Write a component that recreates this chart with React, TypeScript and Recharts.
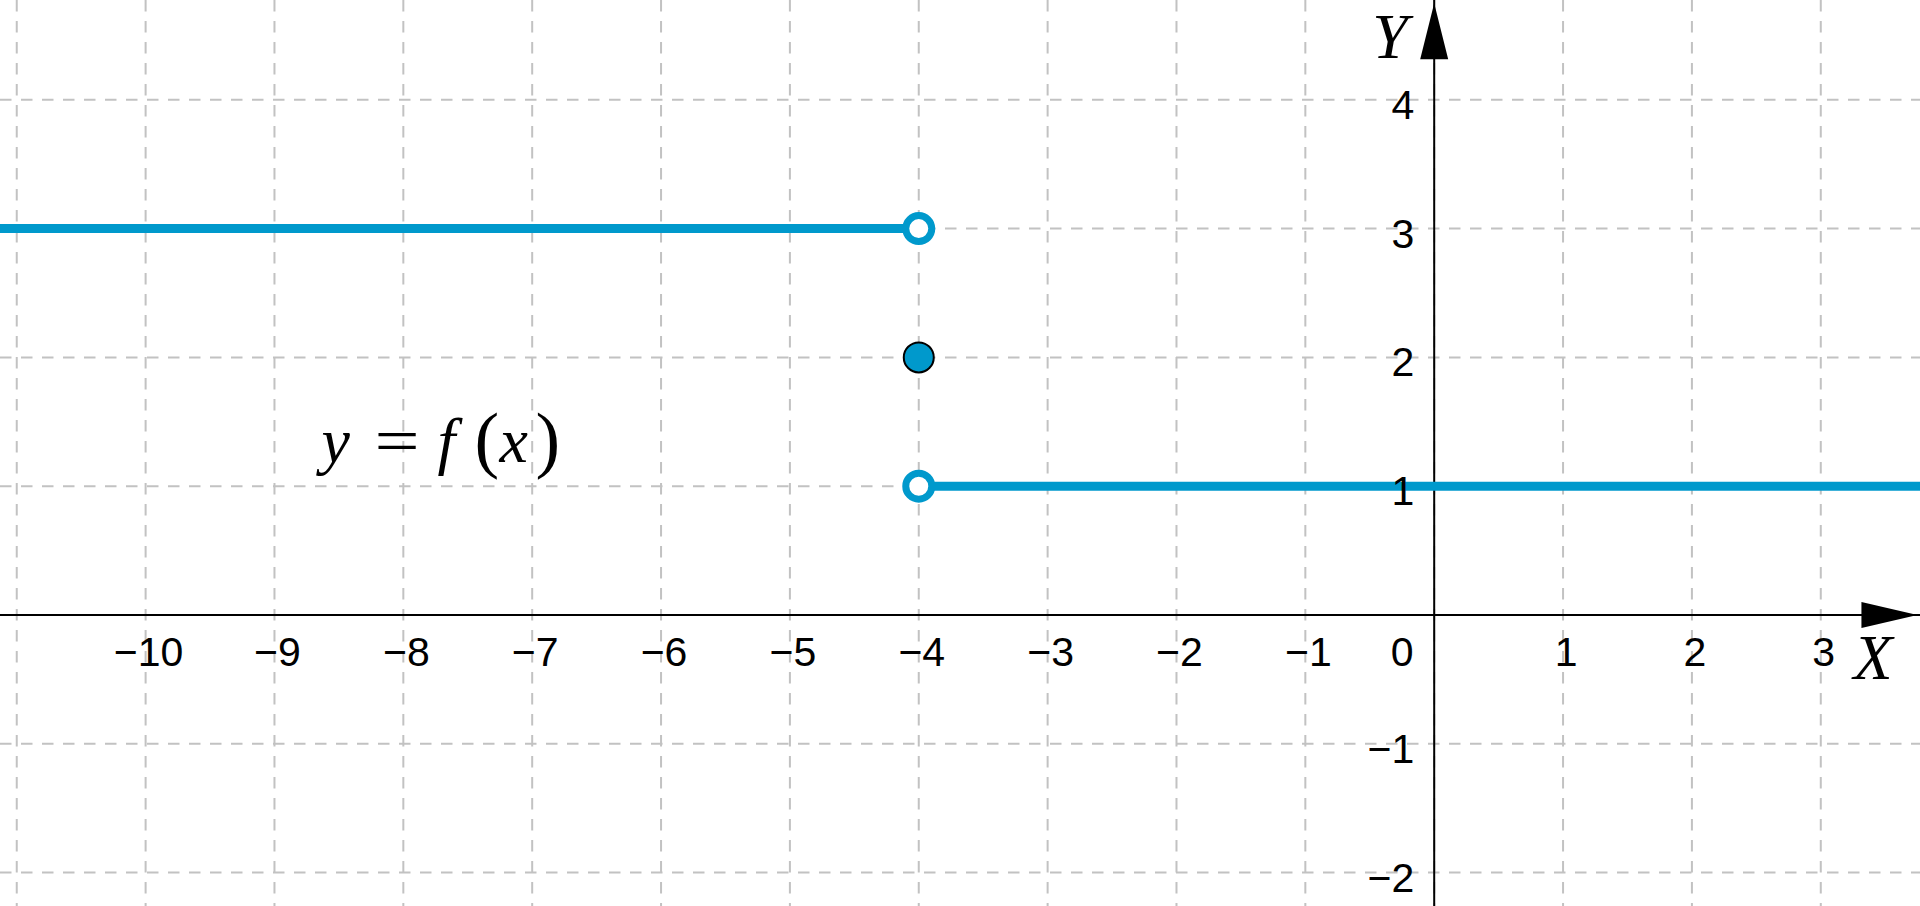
import {
  ComposedChart,
  Line,
  Scatter,
  XAxis,
  YAxis,
  CartesianGrid,
  ReferenceLine,
  ReferenceDot,
} from "recharts";

const X_DOMAIN: [number, number] = [-11.13, 3.77];
const Y_DOMAIN: [number, number] = [-2.26, 4.775];

const xGridValues = [-11, -10, -9, -8, -7, -6, -5, -4, -3, -2, -1, 0, 1, 2, 3];
const yGridValues = [-2, -1, 0, 1, 2, 3, 4];
const xTickLabels = [-10, -9, -8, -7, -6, -5, -4, -3, -2, -1, 1, 2, 3];
const yTickLabels = [-2, -1, 1, 2, 3, 4];

// f(x) = 3 for x < -4, f(-4) = 2, f(x) = 1 for x > -4
const leftPiece = [
  { x: -12, y: 3 },
  { x: -4, y: 3 },
];
const rightPiece = [
  { x: -4, y: 1 },
  { x: 4, y: 1 },
];
const openPoints = [
  { x: -4, y: 3 },
  { x: -4, y: 1 },
];
const filledPoints = [{ x: -4, y: 2 }];

const yArrowTip = { x: 0, y: 4.75 };
const xArrowTip = { x: 3.75, y: 0 };
const formulaAnchor = { x: -8.65, y: 1.19 };

const BLUE = "#0099cc";
const GRID = "#c2c2c2";
const NUM_FONT = "'Liberation Sans', Arial, sans-serif";
const MATH_FONT = "'Liberation Serif', 'Times New Roman', serif";

const fmt = (v: number) => (v < 0 ? `\u2212${Math.abs(v)}` : `${v}`);

const OpenCircle = (props: any) => (
  <circle cx={props.cx} cy={props.cy} r={13} fill="#fff" stroke={BLUE} strokeWidth={7} />
);

const FilledCircle = (props: any) => (
  <circle cx={props.cx} cy={props.cy} r={15} fill={BLUE} stroke="#000" strokeWidth={2} />
);

const xTick = (v: number) => (props: any) => (
  <text x={props.cx + 3} y={props.cy + 51} textAnchor="middle" fontFamily={NUM_FONT} fontSize={41} fill="#000">
    {fmt(v)}
  </text>
);

const yTick = (v: number) => (props: any) => (
  <text x={props.cx - 20} y={props.cy + 19} textAnchor="end" fontFamily={NUM_FONT} fontSize={41} fill="#000">
    {fmt(v)}
  </text>
);

const originLabel = (props: any) => (
  <text x={props.cx - 32} y={props.cy + 51} textAnchor="middle" fontFamily={NUM_FONT} fontSize={41} fill="#000">
    0
  </text>
);

const upArrow = (props: any) => {
  const { cx, cy } = props;
  return (
    <g>
      <polygon points={`${cx},${cy} ${cx - 14},${cy + 56} ${cx + 14},${cy + 56}`} fill="#000" />
      <text x={cx - 62} y={cy + 55} fontFamily={MATH_FONT} fontStyle="italic" fontSize={64} fill="#000">
        Y
      </text>
    </g>
  );
};

const rightArrow = (props: any) => {
  const { cx, cy } = props;
  return (
    <g>
      <polygon points={`${cx},${cy} ${cx - 56},${cy - 13} ${cx - 56},${cy + 13}`} fill="#000" />
      <text x={cx - 64} y={cy + 64} fontFamily={MATH_FONT} fontStyle="italic" fontSize={64} fill="#000">
        X
      </text>
    </g>
  );
};

const formula = (props: any) => {
  const { cx, cy } = props;
  return (
    <g fontFamily={MATH_FONT} fill="#000">
      <text x={cx + 2} y={cy} fontStyle="italic" fontSize={64}>y</text>
      <text transform={`translate(${cx + 55},${cy}) scale(1.25,1)`} fontSize={64}>=</text>
      <text x={cx + 118} y={cy} fontStyle="italic" fontSize={64}>f</text>
      <text x={cx + 155} y={cy + 2} fontSize={74}>(</text>
      <text x={cx + 180} y={cy} fontStyle="italic" fontSize={64}>x</text>
      <text x={cx + 216} y={cy + 2} fontSize={74}>)</text>
    </g>
  );
};

export default function App() {
  return (
    <div style={{ position: "fixed", left: 0, top: 0, width: 1920, height: 906, background: "#fff" }}>
      <ComposedChart width={1920} height={906} margin={{ top: 0, right: 0, bottom: 0, left: 0 }}>
        <XAxis dataKey="x" type="number" domain={X_DOMAIN} allowDataOverflow hide />
        <YAxis dataKey="y" type="number" domain={Y_DOMAIN} allowDataOverflow hide />
        <CartesianGrid
          verticalValues={xGridValues}
          horizontalValues={yGridValues}
          stroke={GRID}
          strokeWidth={2}
          strokeDasharray="11.5 9.5"
        />
        {xTickLabels.map((v) => (
          <ReferenceDot key={`xt${v}`} x={v} y={0} r={0} shape={xTick(v)} />
        ))}
        {yTickLabels.map((v) => (
          <ReferenceDot key={`yt${v}`} x={0} y={v} r={0} shape={yTick(v)} />
        ))}
        <ReferenceDot x={0} y={0} r={0} shape={originLabel} />
        <ReferenceDot x={formulaAnchor.x} y={formulaAnchor.y} r={0} shape={formula} />
        <ReferenceLine x={0} stroke="#000" strokeWidth={2} />
        <ReferenceLine y={0} stroke="#000" strokeWidth={2} />
        <ReferenceDot x={yArrowTip.x} y={yArrowTip.y} r={0} shape={upArrow} />
        <ReferenceDot x={xArrowTip.x} y={xArrowTip.y} r={0} shape={rightArrow} />
        <Line data={leftPiece} dataKey="y" stroke={BLUE} strokeWidth={9} dot={false} isAnimationActive={false} />
        <Line data={rightPiece} dataKey="y" stroke={BLUE} strokeWidth={9} dot={false} isAnimationActive={false} />
        <Scatter data={openPoints} dataKey="y" shape={OpenCircle} isAnimationActive={false} />
        <Scatter data={filledPoints} dataKey="y" shape={FilledCircle} isAnimationActive={false} />
      </ComposedChart>
    </div>
  );
}
